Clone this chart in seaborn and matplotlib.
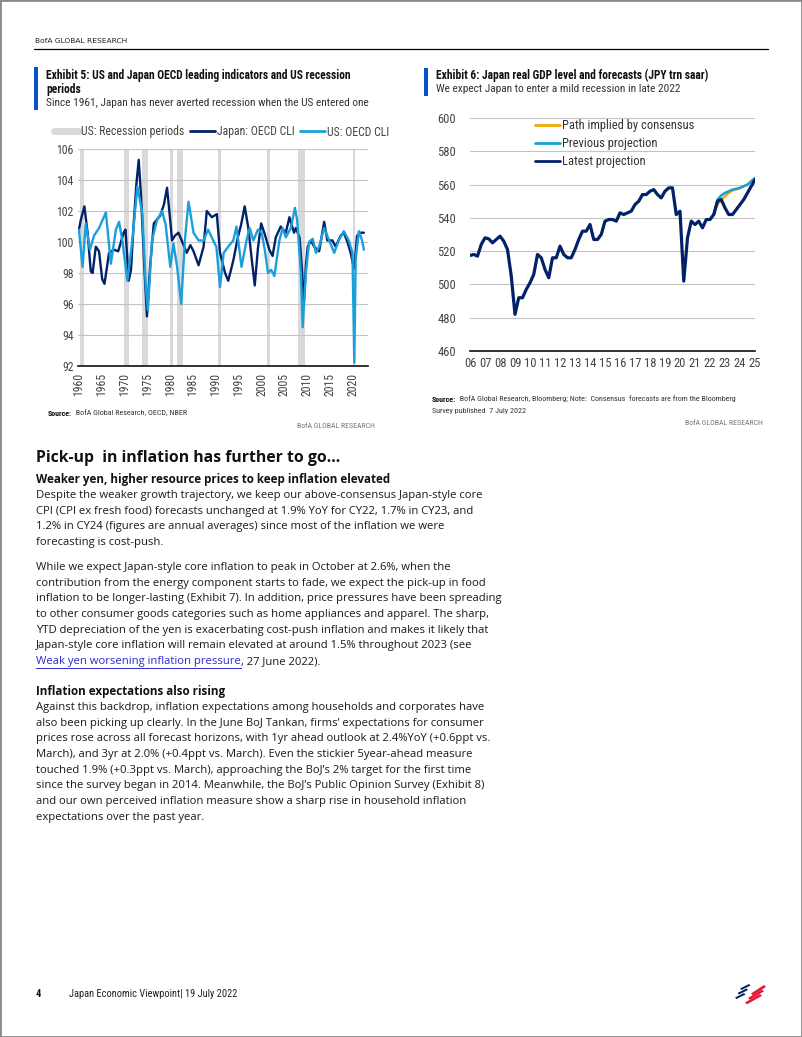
import matplotlib
matplotlib.use("Agg")
import matplotlib.pyplot as plt
from matplotlib import font_manager
from matplotlib.lines import Line2D
from matplotlib.patches import Rectangle, Polygon
import numpy as np
import pandas as pd
import seaborn as sns

## Exhibit 5: OECD composite leading indicators (estimated from the page)
rec_start = [1960.3, 1969.9, 1973.9, 1980.0, 1981.5, 1990.5, 2001.2, 2007.9, 2020.05]
rec_end = [1961.1, 1970.9, 1975.2, 1980.5, 1982.9, 1991.2, 2001.9, 2009.5, 2020.55]

jp_years = [1960.0, 1960.4, 1961.2, 1961.9, 1962.6, 1963.0, 1963.7, 1964.4, 1965.1, 1965.6,
            1966.6, 1967.7, 1968.6, 1969.8, 1970.2, 1970.9, 1971.4, 1972.0, 1972.6, 1973.1,
            1973.6, 1974.3, 1974.9, 1975.6, 1976.4, 1977.8, 1978.6, 1979.3, 1979.8, 1980.4,
            1981.0, 1981.8, 1982.5, 1983.6, 1984.4, 1985.1, 1986.2, 1987.3, 1988.0, 1989.1,
            1990.2, 1990.9, 1992.0, 1992.7, 1993.8, 1994.8, 1995.5, 1996.3, 1997.1, 1997.8,
            1998.5, 1999.2, 1999.9, 2000.7, 2001.7, 2002.4, 2003.1, 2004.2, 2005.3, 2006.1,
            2007.1, 2007.5, 2008.3, 2008.9, 2009.2, 2009.7, 2010.1, 2010.8, 2011.5, 2012.6,
            2013.7, 2014.4, 2015.5, 2016.2, 2017.3, 2018.0, 2018.8, 2019.5, 2020.2, 2020.5,
            2020.9, 2021.7, 2022.4]
jp_cli = [100.8, 101.4, 102.3, 100.6, 98.1, 98.0, 99.7, 99.4, 97.6, 97.3,
          99.3, 99.5, 99.4, 100.6, 100.8, 97.5, 98.2, 101.2, 103.8, 105.3,
          103.0, 98.5, 95.2, 98.5, 101.2, 101.7, 102.4, 103.5, 102.0, 100.1,
          100.4, 100.6, 100.1, 99.3, 99.8, 99.4, 98.5, 99.7, 102.0, 101.6,
          101.8, 99.3, 98.0, 97.5, 98.8, 100.3, 101.1, 102.3, 100.9, 99.0,
          97.2, 99.6, 101.2, 100.5, 99.5, 99.1, 100.3, 101.0, 100.6, 101.6,
          100.6, 100.9, 100.3, 98.0, 95.8, 98.5, 99.7, 100.1, 99.7, 99.4,
          101.3, 100.1, 100.1, 99.7, 100.4, 100.6, 100.0, 99.3, 98.3, 99.0,
          100.4, 100.6, 100.6]

us_years = [1960.0, 1960.8, 1961.5, 1962.4, 1963.3, 1964.4, 1965.9, 1967.0, 1968.1, 1968.8,
            1969.5, 1970.6, 1971.7, 1972.8, 1973.9, 1974.6, 1975.1, 1976.0, 1977.1, 1978.2,
            1979.0, 1980.0, 1980.7, 1981.5, 1982.4, 1983.2, 1984.0, 1985.1, 1986.2, 1987.3,
            1988.3, 1989.4, 1990.1, 1990.9, 1991.7, 1992.7, 1993.8, 1994.5, 1995.6, 1996.7,
            1997.4, 1998.2, 1999.2, 2000.0, 2000.7, 2001.4, 2002.1, 2002.8, 2003.9, 2004.6,
            2005.3, 2006.4, 2007.3, 2007.8, 2008.6, 2009.0, 2009.7, 2010.4, 2011.2, 2011.9,
            2012.6, 2013.7, 2014.8, 2015.9, 2016.9, 2018.0, 2019.1, 2019.9, 2020.3, 2020.6,
            2021.3, 2022.0, 2022.4]
us_cli = [100.8, 98.4, 101.2, 99.5, 100.4, 100.9, 101.9, 98.6, 100.8, 101.3,
          100.1, 97.5, 100.1, 103.6, 101.8, 97.3, 95.6, 100.1, 101.4, 102.0,
          101.1, 98.4, 99.9, 98.4, 96.0, 100.1, 102.6, 100.6, 100.1, 100.1,
          100.8, 100.1, 99.7, 97.1, 99.3, 99.7, 100.1, 101.0, 98.4, 100.1,
          100.9, 100.1, 100.8, 100.6, 99.5, 98.0, 98.2, 97.8, 100.1, 100.9,
          100.3, 100.9, 102.2, 101.4, 98.0, 94.5, 98.0, 100.0, 100.2, 99.3,
          99.7, 100.9, 100.1, 99.3, 100.1, 100.7, 100.1, 99.3, 92.2, 98.9,
          100.7, 100.1, 99.5]

## Exhibit 6: Japan real GDP, quarterly 2006Q1-2025Q1 (JPY trn saar)
gdp_latest = [517.4, 518, 517, 524,  528, 527.4, 525, 527,  529, 526, 521, 505,
              482, 492, 492, 497,  501, 506, 518, 516,  509, 504, 516, 516,
              523, 518, 516, 516,  521, 527, 532, 532,  536, 527, 527, 530,
              538, 539, 539, 538,  543, 542, 543, 544,  548, 550, 554, 554,
              556, 557, 554, 552,  556, 558, 558, 542,  544, 502, 528, 538,
              536, 538, 534, 539,  539, 542, 550, 551,  546, 542, 542, 545,
              548, 551, 555, 559,  563]
gdp_previous = [542, 551, 553.5, 555, 556, 557, 557.5, 558, 559, 560, 562, 564]   # from 2022Q2
gdp_consensus = [542, 548, 551, 553, 555, 556.5, 557, 558, 559, 560, 562, 563.5]  # from 2022Q2

NAVY = "#012169"
LIGHT = "#1a9fdc"
ORANGE = "#f5a800"
REC_GREY = "#d9d9d9"
GRID = "#c4c4c4"
TITLE_BLUE = "#0a52c9"
TXT = "#1a1a1a"

W, H = 802, 1037

sns.set_style("white")
fonts = font_manager.fontManager.ttflist
names = {f.name for f in fonts}
bold_names = {f.name for f in fonts if f.weight in ("bold", "semibold", "demibold")
              or (isinstance(f.weight, int) and f.weight >= 600)}
NARROW = next(n for n in ["Liberation Sans Narrow", "Roboto Condensed", "DejaVu Sans"] if n in names)
BODY = next(n for n in ["Noto Sans", "Open Sans", "Lato", "DejaVu Sans"] if n in bold_names)
plt.rcParams["font.family"] = [BODY, "DejaVu Sans"]


def fx(x):
    return x / W


def fy(y):
    return 1 - y / H


def box(l, t, r, b):
    return [fx(l), fy(b), (r - l) / W, (b - t) / H]


fig = plt.figure(figsize=(W / 100, H / 100), dpi=100)
renderer = fig.canvas.get_renderer()


def put(x, y, s, **kw):
    kw.setdefault("va", "center")
    return fig.text(fx(x), fy(y), s, **kw)


def run(x, y, parts):
    # draw pieces of text one after the other on the same line
    for s, kw in parts:
        t = put(x, y, s, **kw)
        x += t.get_window_extent(renderer).width
    return x


# page frame and header
fig.add_artist(Rectangle((0, 0), 1, 1, transform=fig.transFigure, fill=False, ec="#8a8a8a", lw=2))
put(35, 41, "BofA GLOBAL RESEARCH", size=5.4, family="DejaVu Sans", color="#222222")
fig.add_artist(Line2D([fx(34), fx(768)], [fy(48.5)] * 2, color="black", lw=0.9))

# ---------------- Exhibit 5 ----------------
fig.add_artist(Rectangle((fx(34), fy(110)), 4 / W, 43 / H, transform=fig.transFigure, color=TITLE_BLUE, lw=0))
put(46, 75.5, "Exhibit 5: US and Japan OECD leading indicators and US recession", size=8.3,
    family=NARROW, weight="bold", color="#111111")
put(46, 89.5, "periods", size=8.3, family=NARROW, weight="bold", color="#111111")
put(46, 103, "Since 1961, Japan has never averted recession when the US entered one", size=8.2,
    family=NARROW, color="#333333")

ax1 = fig.add_axes(box(78, 149, 368, 366))
for s, e in zip(rec_start, rec_end):
    ax1.axvspan(s, e, color=REC_GREY, lw=0, zorder=0)
jp = pd.DataFrame({"year": jp_years, "cli": jp_cli})
us = pd.DataFrame({"year": us_years, "cli": us_cli})
sns.lineplot(data=jp, x="year", y="cli", color=NAVY, lw=1.7, ax=ax1, zorder=3, legend=False)
sns.lineplot(data=us, x="year", y="cli", color=LIGHT, lw=1.7, ax=ax1, zorder=4, legend=False)
ax1.set_xlim(1959.8, 2023.3)
ax1.set_ylim(92, 106)
ax1.set_yticks(np.arange(92, 107, 2))
ax1.set_xticks(np.arange(1960, 2021, 5))
ax1.set_xticklabels([str(y) for y in range(1960, 2021, 5)], rotation=90, family=NARROW, size=8.5, color="#444444")
ax1.set_yticklabels([str(v) for v in range(92, 107, 2)], family=NARROW, size=8.5, color="#444444")
ax1.set_xlabel("")
ax1.set_ylabel("")
ax1.grid(axis="y", color=GRID, lw=0.8, zorder=1)
ax1.set_axisbelow(True)
for sp in ["top", "left", "right"]:
    ax1.spines[sp].set_visible(False)
ax1.spines["bottom"].set_color("#111111")
ax1.spines["bottom"].set_linewidth(1.2)
ax1.spines["bottom"].set_zorder(5)
ax1.tick_params(length=0, pad=3)
ax1.tick_params(axis="x", pad=5)

h1 = [Line2D([], [], color=REC_GREY, lw=5), Line2D([], [], color=NAVY, lw=2), Line2D([], [], color=LIGHT, lw=2)]
fig.legend(h1, ["US: Recession periods", "Japan: OECD CLI", "US: OECD CLI"], ncol=3, loc="center left",
           bbox_to_anchor=(fx(54), fy(132)), bbox_transform=fig.transFigure, frameon=False,
           prop={"family": NARROW, "size": 8.5}, handlelength=2.1, handletextpad=0.2,
           columnspacing=0.45, borderpad=0, borderaxespad=0, labelcolor="#444444")

run(48, 413, [("Source:", dict(size=5.8, family=NARROW, weight="bold", color="#111111")),
              ("  BofA Global Research, OECD, NBER", dict(size=5.8, family=NARROW, color="#333333"))])
put(375, 426, "BofA GLOBAL RESEARCH", size=5.6, family=NARROW, color="#777777", ha="right")

# ---------------- Exhibit 6 ----------------
fig.add_artist(Rectangle((fx(424), fy(96)), 4 / W, 28 / H, transform=fig.transFigure, color=TITLE_BLUE, lw=0))
put(436, 75.5, "Exhibit 6: Japan real GDP level and forecasts (JPY trn saar)", size=8.3,
    family=NARROW, weight="bold", color="#111111")
put(436, 89.5, "We expect Japan to enter a mild recession in late 2022", size=8.2,
    family=NARROW, color="#333333")

quarters = pd.period_range("2006Q1", "2025Q1", freq="Q")
qpos = quarters.year + (quarters.quarter - 1) / 4
gdp = pd.DataFrame({"t": qpos, "gdp": gdp_latest})
fq = qpos[qpos >= 2022.25]
prev = pd.DataFrame({"t": fq, "gdp": gdp_previous})
cons = pd.DataFrame({"t": fq, "gdp": gdp_consensus})

ax2 = fig.add_axes(box(470, 118, 755, 351))
sns.lineplot(data=cons, x="t", y="gdp", color=ORANGE, lw=1.8, ax=ax2, legend=False, zorder=3)
sns.lineplot(data=prev, x="t", y="gdp", color=LIGHT, lw=1.8, ax=ax2, legend=False, zorder=4)
sns.lineplot(data=gdp, x="t", y="gdp", color=NAVY, lw=2.3, ax=ax2, legend=False, zorder=5)
ax2.set_xlim(2006, 2025)
ax2.set_ylim(460, 600)
ax2.set_yticks(np.arange(460, 601, 20))
ax2.set_yticklabels([str(v) for v in range(460, 601, 20)], family=NARROW, size=9, color="#444444")
ax2.set_xticks(np.arange(2006, 2026))
ax2.set_xticklabels([f"{y % 100:02d}" for y in range(2006, 2026)], family=NARROW, size=9, color="#444444")
ax2.set_xlabel("")
ax2.set_ylabel("")
ax2.grid(axis="y", color=GRID, lw=0.8)
ax2.set_axisbelow(True)
for sp in ["top", "left", "right"]:
    ax2.spines[sp].set_visible(False)
ax2.spines["bottom"].set_color("#111111")
ax2.spines["bottom"].set_linewidth(1.2)
ax2.tick_params(length=0, pad=4)
ax2.tick_params(axis="y", pad=10)

h2 = [Line2D([], [], color=ORANGE, lw=2), Line2D([], [], color=LIGHT, lw=2), Line2D([], [], color=NAVY, lw=2)]
ax2.legend(h2, ["Path implied by consensus", "Previous projection", "Latest projection"], loc="upper left",
           bbox_to_anchor=(fx(535), fy(119)), bbox_transform=fig.transFigure, frameon=False,
           prop={"family": NARROW, "size": 9}, handlelength=2.0, handletextpad=0.15,
           labelspacing=0.42, borderpad=0, borderaxespad=0, labelcolor="#333333")

run(432, 399, [("Source:", dict(size=5.8, family=NARROW, weight="bold", color="#111111")),
               ("  BofA Global Research, Bloomberg; Note:  Consensus  forecasts are from the Bloomberg",
                dict(size=5.8, family=NARROW, color="#333333"))])
put(432, 411, "Survey published  7 July 2022", size=5.8, family=NARROW, color="#333333")
put(763, 423, "BofA GLOBAL RESEARCH", size=5.6, family=NARROW, color="#777777", ha="right")

# ---------------- body text ----------------
BSIZE = 8.15
LH = 15.65
put(36, 458, "Pick-up  in inflation has further to go...", size=11.3, weight="bold", color="#111111")
put(36, 479, "Weaker yen, higher resource prices to keep inflation elevated", size=8.4, weight="bold",
    color="#111111")

para1 = ["Despite the weaker growth trajectory, we keep our above-consensus Japan-style core",
         "CPI (CPI ex fresh food) forecasts unchanged at 1.9% YoY for CY22, 1.7% in CY23, and",
         "1.2% in CY24 (figures are annual averages) since most of the inflation we were",
         "forecasting is cost-push."]
for i, line in enumerate(para1):
    put(36, 495.7 + i * LH, line, size=BSIZE, color=TXT)

para2 = ["While we expect Japan-style core inflation to peak in October at 2.6%, when the",
         "contribution from the energy component starts to fade, we expect the pick-up in food",
         "inflation to be longer-lasting (Exhibit 7). In addition, price pressures have been spreading",
         "to other consumer goods categories such as home appliances and apparel. The sharp,",
         "YTD depreciation of the yen is exacerbating cost-push inflation and makes it likely that",
         "Japan-style core inflation will remain elevated at around 1.5% throughout 2023 (see"]
for i, line in enumerate(para2):
    put(36, 567.7 + i * LH, line, size=BSIZE, color=TXT)
ylink = 567.7 + len(para2) * LH
link = put(36, ylink, "Weak yen worsening inflation pressure", size=BSIZE, color="#2b2bd0")
lw_px = link.get_window_extent(renderer).width
fig.add_artist(Line2D([fx(36), fx(36 + lw_px)], [fy(ylink + 6.5)] * 2, color="#2b2bd0", lw=0.7))
put(36 + lw_px, ylink, ", 27 June 2022).", size=BSIZE, color=TXT)

put(36, 691, "Inflation expectations also rising", size=8.4, weight="bold", color="#111111")
para3 = ["Against this backdrop, inflation expectations among households and corporates have",
         "also been picking up clearly. In the June BoJ Tankan, firms\u2019 expectations for consumer",
         "prices rose across all forecast horizons, with 1yr ahead outlook at 2.4%YoY (+0.6ppt vs.",
         "March), and 3yr at 2.0% (+0.4ppt vs. March). Even the stickier 5year-ahead measure",
         "touched 1.9% (+0.3ppt vs. March), approaching the BoJ\u2019s 2% target for the first time",
         "since the survey began in 2014. Meanwhile, the BoJ\u2019s Public Opinion Survey (Exhibit 8)",
         "and our own perceived inflation measure show a sharp rise in household inflation",
         "expectations over the past year."]
for i, line in enumerate(para3):
    put(36, 707.7 + i * LH, line, size=BSIZE, color=TXT)

# ---------------- footer ----------------
put(36, 994, "4", size=7.5, family=NARROW, weight="bold", color="#111111")
put(69, 994, "Japan Economic Viewpoint| 19 July 2022", size=7.5, family=NARROW, color="#222222")
# small flag logo
for i in range(3):
    y0 = 996 - i * 4.5
    fig.add_artist(Polygon([(fx(735 + i * 2.5), fy(y0 + 1.5)), (fx(744 + i * 2.5), fy(y0 - 3)),
                            (fx(745.5 + i * 2.5), fy(y0 - 1.5)), (fx(736.5 + i * 2.5), fy(y0 + 3))],
                           closed=True, transform=fig.transFigure, color=NAVY, lw=0))
    y1 = 1001 - i * 4.5
    fig.add_artist(Polygon([(fx(745 + i * 3), fy(y1 + 1.5)), (fx(760 + i * 2), fy(y1 - 7)),
                            (fx(762 + i * 2), fy(y1 - 5.2)), (fx(747 + i * 3), fy(y1 + 3.3))],
                           closed=True, transform=fig.transFigure, color="#e31837", lw=0))

fig.savefig("out.png", dpi=100)
